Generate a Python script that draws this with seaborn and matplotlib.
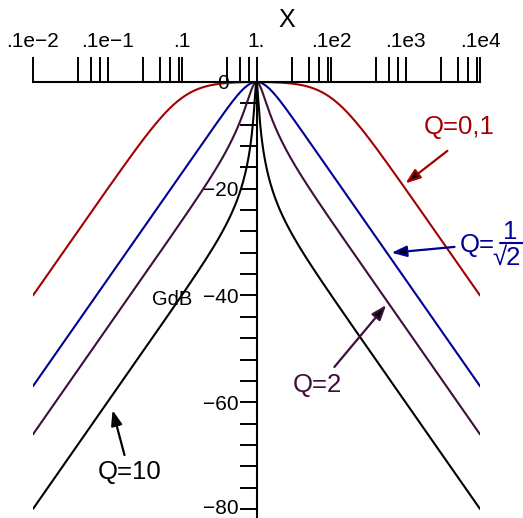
import numpy as np
import pandas as pd
import matplotlib
matplotlib.use("Agg")
import matplotlib.pyplot as plt
import matplotlib.transforms as mtransforms
from matplotlib.lines import Line2D
import seaborn as sns

# ---------------- Data ----------------
q_values = [0.1, 1 / np.sqrt(2), 2, 10]
q_names = ["Q=0,1", "Q=1/sqrt2", "Q=2", "Q=10"]
q_colors = ["#a50000", "#000096", "#3c0f3c", "#000000"]

x_major = [1e-3, 1e-2, 1e-1, 1, 1e1, 1e2, 1e3]
x_major_labels = [".1e−2", ".1e−1", ".1", "1.", ".1e2", ".1e3", ".1e4"]
x_minor = [4e-3, 6e-3, 8e-3,
           3e-2, 5e-2, 7e-2, 9e-2,
           4e-1, 6e-1, 8e-1,
           3, 5, 7, 9,
           40, 60, 80,
           300, 500, 700, 900]
y_major = [-80, -60, -40, -20, 0]
y_major_labels = ["−80", "−60", "−40", "−20", "0"]
y_minor = list(range(-80, 1, 4))

# band-pass gain in dB
x = np.logspace(-3, 3, 800)
rows = []
for q, name in zip(q_values, q_names):
    g = -10 * np.log10(1 + q ** 2 * (x - 1 / x) ** 2)
    rows.append(pd.DataFrame({"x": x, "GdB": g, "Q": name}))
df = pd.concat(rows, ignore_index=True)

# ---------------- Style ----------------
sns.set_style("white")
plt.rcParams["font.family"] = ["Liberation Sans", "DejaVu Sans"]
plt.rcParams["text.color"] = "black"

W, H = 523, 518
fig = plt.figure(figsize=(W / 100, H / 100), dpi=100)

ymin, ymax = -81.7, 1.0
px_per_db = (509 - 82) / 80
top_px = 82 - ymax * px_per_db
ax = fig.add_axes([33 / W, 0, 447 / W, (H - top_px) / H])

sns.lineplot(data=df, x="x", y="GdB", hue="Q", palette=q_colors,
             estimator=None, sort=False, legend=False, linewidth=1.5, ax=ax)

ax.set_xscale("log")
ax.set_xlim(1e-3, 1e3)
ax.set_ylim(ymin, ymax)

# Maple-like axes crossing at (1, 0)
ax.spines["right"].set_visible(False)
ax.spines["bottom"].set_visible(False)
ax.spines["top"].set_position(("data", 0))
ax.spines["left"].set_position(("data", 1))
ax.spines["left"].set_bounds(ymin, 0)
for s in ("top", "left"):
    ax.spines[s].set_color("black")
    ax.spines[s].set_linewidth(1.5)

ax.xaxis.tick_top()
ax.set_xticks(x_major, labels=x_major_labels)
ax.set_xticks(x_minor, minor=True)
ax.tick_params(axis="x", which="both", top=True, bottom=False,
               direction="out", length=18, width=1.4,
               color="black", labelcolor="black", labelsize=15, pad=4)
ax.set_yticks(y_major, labels=y_major_labels)
ax.set_yticks(y_minor, minor=True)
ax.tick_params(axis="y", which="both", left=True, right=False,
               direction="out", length=12, width=1.4,
               color="black", labelcolor="black", labelsize=15, pad=1)
ax.set_xlabel("")
ax.set_ylabel("")
ax.grid(False)

# nudge the "0" label left and the "-80" label up, as in the original
ylabels = ax.get_yticklabels()
zero, bottom = ylabels[-1], ylabels[0]
zero.set_transform(zero.get_transform() +
                   mtransforms.ScaledTranslation(-7 / 72, 0, fig.dpi_scale_trans))
bottom.set_transform(bottom.get_transform() +
                     mtransforms.ScaledTranslation(0, 2 / 72, fig.dpi_scale_trans))

ax.text(2.53, 11.6, "X", fontsize=18, ha="center", va="center", clip_on=False)
ax.text(0.0745, -40.8, "GdB", fontsize=14.5, ha="center", va="center")

# ---------------- Annotations ----------------
head = "-|>,head_length=0.9,head_width=0.33"

ax.annotate("Q=0,1", xy=(530, -8.4), color=q_colors[0], fontsize=18.5,
            ha="center", va="center")
ax.annotate("", xy=(100, -19.0), xytext=(365, -12.9),
            arrowprops=dict(arrowstyle=head, edgecolor=q_colors[0],
                            facecolor="black", lw=1.6, shrinkA=0, shrinkB=0))

# Q = 1/sqrt(2) written as a stacked fraction
ax.text(531, -30.6, "Q=", color=q_colors[1], fontsize=18.5,
        ha="left", va="center", clip_on=False)
ax.text(2566, -28.2, "1", color=q_colors[1], fontsize=18.5,
        ha="center", va="center", clip_on=False)
ax.text(2300, -33.0, "√2", color=q_colors[1], fontsize=18.5,
        ha="center", va="center", clip_on=False)
fig.add_artist(Line2D([500 / W, 1.0], [1 - 243 / H, 1 - 243 / H],
                      color=q_colors[1], lw=1.5))
ax.annotate("", xy=(65, -32.0), xytext=(455, -30.9),
            arrowprops=dict(arrowstyle=head, edgecolor=q_colors[1],
                            facecolor="black", lw=1.6, shrinkA=0, shrinkB=0))

ax.annotate("Q=2", xy=(6.6, -56.8), color=q_colors[2], fontsize=18.5,
            ha="center", va="center")
ax.annotate("", xy=(55, -41.8), xytext=(11.1, -53.4),
            arrowprops=dict(arrowstyle=head, edgecolor=q_colors[2],
                            facecolor="black", lw=1.6, shrinkA=0, shrinkB=0))

ax.annotate("Q=10", xy=(0.0197, -73.1), color=q_colors[3], fontsize=18.5,
            ha="center", va="center")
ax.annotate("", xy=(0.0117, -61.5), xytext=(0.0169, -69.9),
            arrowprops=dict(arrowstyle=head, edgecolor=q_colors[3],
                            facecolor="black", lw=1.6, shrinkA=0, shrinkB=0))

fig.savefig("out.png", dpi=100)
